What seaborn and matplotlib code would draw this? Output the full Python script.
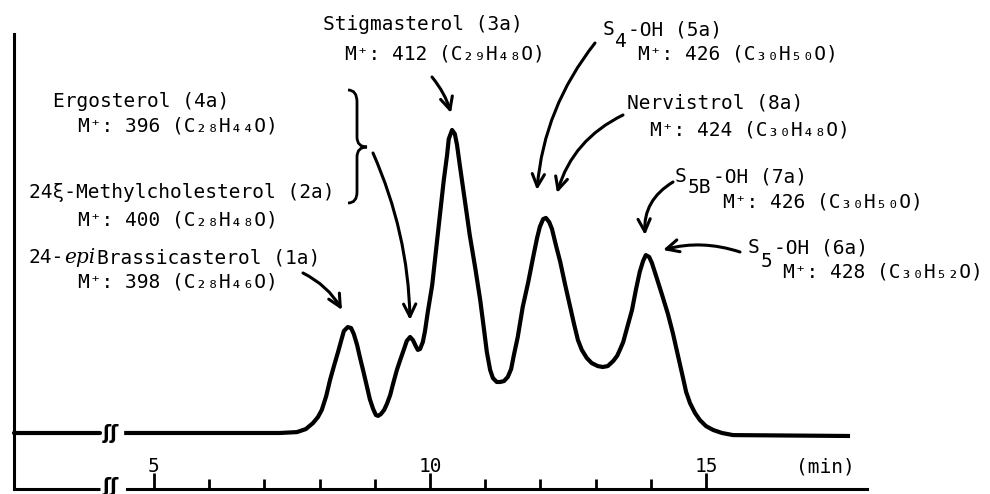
import seaborn as sns
import matplotlib.pyplot as plt
from matplotlib.path import Path
from matplotlib.patches import PathPatch

# GC trace: retention time (min) vs detector response
time_min = [4.46, 7.28, 7.59, 7.75, 7.88, 7.97, 8.04, 8.12, 8.19, 8.26, 8.33,
            8.39, 8.44, 8.51, 8.57, 8.62, 8.68, 8.73, 8.80, 8.86, 8.91, 8.97,
            9.02, 9.06, 9.11, 9.17, 9.22, 9.28, 9.33, 9.40, 9.46, 9.53, 9.58,
            9.64, 9.69, 9.75, 9.78, 9.82, 9.87, 9.91, 9.96, 10.04, 10.11, 10.18,
            10.25, 10.31, 10.34, 10.40, 10.45, 10.49, 10.54, 10.63, 10.72, 10.82,
            10.91, 10.98, 11.03, 11.09, 11.14, 11.21, 11.27, 11.34, 11.41, 11.47,
            11.52, 11.59, 11.68, 11.78, 11.87, 11.94, 11.99, 12.05, 12.10, 12.16,
            12.21, 12.28, 12.36, 12.45, 12.54, 12.61, 12.68, 12.75, 12.84, 12.93,
            13.04, 13.13, 13.22, 13.32, 13.39, 13.44, 13.50, 13.57, 13.66, 13.73,
            13.80, 13.86, 13.91, 13.97, 14.02, 14.09, 14.20, 14.31, 14.40, 14.49,
            14.58, 14.64, 14.71, 14.80, 14.89, 15.00, 15.13, 15.29, 15.49, 17.61]
response = [0.0, 0.0, 0.3, 1.3, 3.3, 5.3, 7.7, 12.3, 17.7, 22.3, 26.7,
            30.7, 34.0, 35.3, 35.0, 33.0, 29.3, 25.3, 20.0, 15.3, 11.3, 8.0,
            6.0, 5.7, 6.3, 7.7, 9.7, 12.7, 16.3, 21.0, 24.3, 28.0, 30.7,
            32.0, 31.0, 28.7, 27.7, 28.0, 30.3, 34.0, 40.3, 49.3, 61.0, 72.7,
            84.3, 92.7, 98.0, 101.0, 99.7, 96.0, 89.3, 77.7, 66.0, 55.0,
            44.3, 34.3, 27.0, 21.0, 18.3, 17.0, 17.0, 17.3, 18.7, 21.3,
            26.0, 32.0, 42.0, 50.3, 58.7, 65.0, 68.7, 71.3, 71.7, 70.3,
            68.0, 62.7, 57.0, 49.3, 42.0, 36.3, 31.0, 27.7, 25.0, 23.3,
            22.3, 22.0, 22.3, 24.0, 25.7, 27.7, 30.3, 35.0, 41.0, 47.7,
            53.7, 57.3, 59.3, 58.7, 56.7, 52.7, 46.3, 39.7, 33.3, 26.0,
            18.7, 13.7, 10.0, 6.7, 4.3, 2.3, 1.0, 0.0, -0.7, -1.0]

# short piece of baseline left of the axis break
lead_time = [2.46, 4.02]
lead_response = [0.0, 0.0]

major_ticks = [5, 10, 15]
major_labels = ['5', '10', '15']
minor_ticks = [6, 7, 8, 9, 11, 12, 13, 14]

sns.set_style('white')
plt.rcParams['font.family'] = ['DejaVu Sans Mono', 'DejaVu Sans']
plt.rcParams['text.color'] = 'black'

W, H = 990, 494


def pix(x, y):
    # picture pixel (origin top left) -> figure fraction
    return (x / W, 1 - y / H)


fig = plt.figure(figsize=(W / 100, H / 100), dpi=100)
ax = fig.add_axes([14 / W, 5 / H, 853 / W, 455 / H])

x_left, x_right = 2.464, 17.917
y_bottom, y_top = -18.67, 133.0
ax.set_xlim(x_left, x_right)
ax.set_ylim(y_bottom, y_top)

sns.lineplot(x=lead_time, y=lead_response, ax=ax, color='black',
             linewidth=3, estimator=None, clip_on=False)
sns.lineplot(x=time_min, y=response, ax=ax, color='black', linewidth=3,
             estimator=None, sort=False, solid_joinstyle='round',
             solid_capstyle='butt')

# axes: left line, broken time axis
for side in ['top', 'right']:
    ax.spines[side].set_visible(False)
for side in ['left', 'bottom']:
    ax.spines[side].set_linewidth(2.2)
    ax.spines[side].set_color('black')
ax.spines['bottom'].set_bounds(4.51, x_right)
ax.plot([x_left, 4.02], [y_bottom, y_bottom], color='black', lw=2.2,
        clip_on=False, solid_capstyle='butt')

ax.set_yticks([])
ax.set_xticks(major_ticks)
ax.set_xticklabels(major_labels)
ax.set_xticks(minor_ticks, minor=True)
ax.tick_params(axis='x', which='both', bottom=True, direction='in', width=2,
               color='black', labelcolor='black', labelsize=14, pad=-23)
ax.tick_params(axis='x', which='major', length=11.5)
ax.tick_params(axis='x', which='minor', length=7.5)
ax.set_xlabel('')
ax.set_ylabel('')

fig.text(*pix(825, 467), '(min)', ha='center', va='center', fontsize=14)

# break marks
for yb in [433, 486]:
    fig.text(*pix(111, yb), 'ʃʃ', ha='center', va='center', fontsize=14,
             fontweight='bold', family='DejaVu Sans')

# peak labels (text, left x, baseline y in picture pixels)
label_lines = [
    ('Stigmasterol (3a)', 323, 30),
    ('M⁺: 412 (C₂₉H₄₈O)', 345, 60),
    ('S', 603, 35),
    ('4', 615, 47),
    ('-OH (5a)', 628, 35),
    ('M⁺: 426 (C₃₀H₅₀O)', 638, 60),
    ('Nervistrol (8a)', 627, 108),
    ('M⁺: 424 (C₃₀H₄₈O)', 650, 135),
    ('S', 675, 182),
    ('5B', 688, 193),
    ('-OH (7a)', 713, 182),
    ('M⁺: 426 (C₃₀H₅₀O)', 723, 207),
    ('S', 748, 253),
    ('5', 761, 267),
    ('-OH (6a)', 774, 253),
    ('M⁺: 428 (C₃₀H₅₂O)', 783, 278),
    ('Ergosterol (4a)', 53, 107),
    ('M⁺: 396 (C₂₈H₄₄O)', 78, 131),
    ('24ξ-Methylcholesterol (2a)', 29, 198),
    ('M⁺: 400 (C₂₈H₄₈O)', 78, 225),
    ('24-', 29, 263),
    ('Brassicasterol (1a)', 97, 263),
    ('M⁺: 398 (C₂₈H₄₆O)', 78, 288),
]
for txt, x, y in label_lines:
    fig.text(*pix(x, y), txt, ha='left', va='baseline', fontsize=14)
fig.text(*pix(64, 263), 'epi', ha='left', va='baseline', fontsize=14.5,
         family='DejaVu Serif', style='italic')

# curly brace grouping 4a and 2a
brace = [(348, 90), (357, 90), (357, 102), (357, 137), (357, 147), (367, 147),
         (357, 147), (357, 157), (357, 192), (357, 203), (348, 203)]
codes = [Path.MOVETO, Path.CURVE3, Path.CURVE3, Path.LINETO, Path.CURVE3,
         Path.CURVE3, Path.CURVE3, Path.CURVE3, Path.LINETO, Path.CURVE3,
         Path.CURVE3]
fig.add_artist(PathPatch(Path([pix(*p) for p in brace], codes),
                         transform=fig.transFigure, fill=False, lw=2,
                         ec='black'))

# arrows: (start, tip, curvature)
arrows = [
    ((432, 77), (451, 113), -0.1),
    ((595, 43), (537, 190), 0.15),
    ((623, 115), (557, 193), 0.22),
    ((673, 182), (645, 235), 0.3),
    ((740, 252), (663, 250), 0.15),
    ((303, 273), (342, 310), -0.15),
    ((373, 153), (410, 320), -0.1),
]
for start, tip, rad in arrows:
    ax.annotate('', xy=pix(*tip), xycoords='figure fraction',
                xytext=pix(*start), textcoords='figure fraction',
                annotation_clip=False,
                arrowprops=dict(arrowstyle='->,head_length=0.45,head_width=0.22',
                                lw=2.2, color='black', shrinkA=0, shrinkB=0,
                                mutation_scale=20,
                                connectionstyle=f'arc3,rad={rad}'))

fig.savefig('out.png', dpi=100)
